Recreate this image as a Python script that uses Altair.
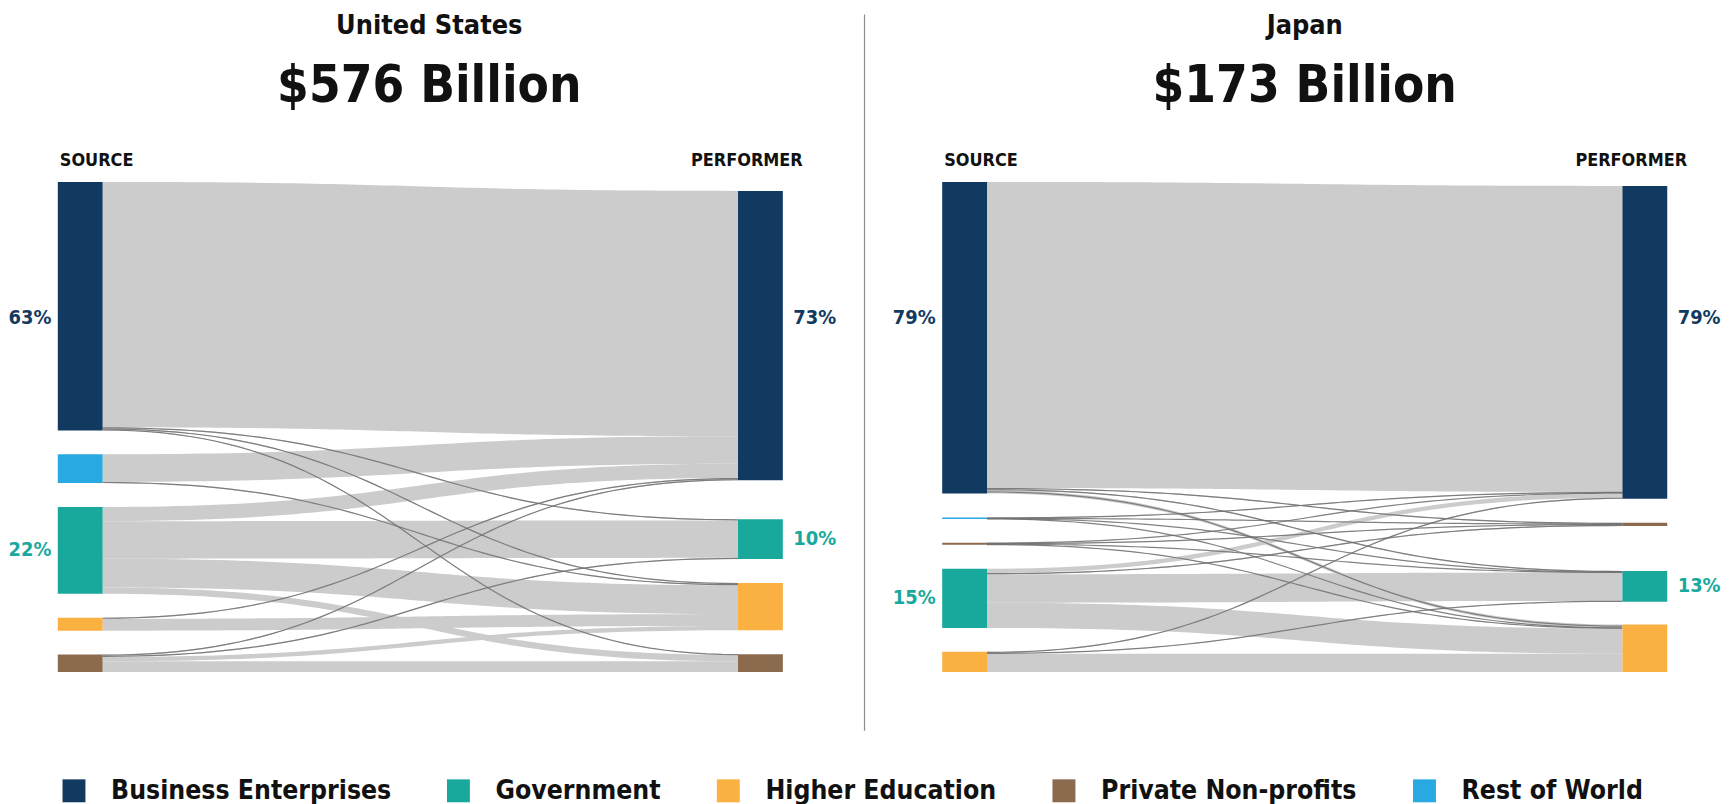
import altair as alt
import numpy as np
import pandas as pd

# ---------------- data ----------------
CATEGORIES = ["Business Enterprises", "Government", "Higher Education",
              "Private Non-profits", "Rest of World"]
CAT_COLORS = ["#123a61", "#19a99c", "#fbb042", "#8b6a4e", "#28a9e1"]
CODE = {"BE": "Business Enterprises", "GOV": "Government", "HE": "Higher Education",
        "PNP": "Private Non-profits", "ROW": "Rest of World"}

COUNTRIES = ["United States", "Japan"]
TOTALS = ["$576 Billion", "$173 Billion"]
HEADERS = ["SOURCE", "PERFORMER"]

# United States (shares of total R&D, %)
US_SOURCES = ["BE", "ROW", "GOV", "HE", "PNP"]
US_PERFORMERS = ["BE", "GOV", "HE", "PNP"]
US_FROM = ["BE", "BE", "BE", "BE", "ROW", "ROW", "GOV", "GOV", "GOV", "GOV",
           "HE", "HE", "PNP", "PNP", "PNP", "PNP"]
US_TO = ["BE", "GOV", "HE", "PNP", "BE", "HE", "BE", "GOV", "HE", "PNP",
         "BE", "HE", "BE", "GOV", "HE", "PNP"]
US_SHARE = [62.2, 0.3, 0.3, 0.2, 7.0, 0.3, 3.6, 9.5, 7.3, 1.6,
            0.3, 3.0, 0.3, 0.3, 1.1, 2.7]
US_SOURCE_LABELS = ["63%", "", "22%", "", ""]
US_PERFORMER_LABELS = ["73%", "10%", "", ""]

# Japan (shares of total R&D, %)
JP_SOURCES = ["BE", "ROW", "PNP", "GOV", "HE"]
JP_PERFORMERS = ["BE", "PNP", "GOV", "HE"]
JP_FROM = ["BE", "BE", "BE", "BE", "ROW", "ROW", "ROW", "ROW",
           "PNP", "PNP", "PNP", "PNP", "GOV", "GOV", "GOV", "GOV", "HE", "HE", "HE"]
JP_TO = ["BE", "PNP", "GOV", "HE", "BE", "PNP", "GOV", "HE",
         "BE", "PNP", "GOV", "HE", "BE", "PNP", "GOV", "HE", "BE", "GOV", "HE"]
JP_SHARE = [77.6, 0.3, 0.3, 0.8, 0.25, 0.05, 0.05, 0.05,
            0.1, 0.2, 0.05, 0.15, 1.1, 0.3, 7.2, 6.4, 0.3, 0.2, 4.6]
JP_SOURCE_LABELS = ["79%", "", "", "15%", ""]
JP_PERFORMER_LABELS = ["79%", "", "13%", ""]

# ---------------- layout (not data) ----------------
PLOT_W, PLOT_H = 728, 492
BAR_W = 45
K = 3.96          # px per percentage point
SRC_GAP = 24
PERF_LAYOUT = {"United States": (9, [39, 24, 24]), "Japan": (4, [24, 45, 23])}
TITLE_DX = {"United States": 9, "Japan": 0}
TOP_LABEL_Y = 137  # labels of the top (largest) nodes sit at a fixed height
THIN = 0.9        # flows below this share are drawn as lines
FONT = "Liberation Sans Narrow, DejaVu Sans Condensed, Roboto, sans-serif"


def build(country, sources, performers, f_from, f_to, f_val, src_labels, perf_labels):
    perf_top, perf_gaps = PERF_LAYOUT[country]
    sval = {s: sum(v for f, v in zip(f_from, f_val) if f == s) for s in sources}
    tval = {t: sum(v for g, v in zip(f_to, f_val) if g == t) for t in performers}
    spos, tpos = {}, {}
    y = 0.0
    for s in sources:
        spos[s] = (y, y + sval[s] * K)
        y += sval[s] * K + SRC_GAP
    y = float(perf_top)
    for j, t in enumerate(performers):
        tpos[t] = (y, y + tval[t] * K)
        y += tval[t] * K + (perf_gaps[j] if j < len(perf_gaps) else 0)
    srank = {s: i for i, s in enumerate(sources)}
    trank = {t: i for i, t in enumerate(performers)}
    n = len(f_val)
    out_off, in_off = [0.0] * n, [0.0] * n
    for s in sources:
        idx = sorted([i for i in range(n) if f_from[i] == s], key=lambda i: trank[f_to[i]])
        acc = 0.0
        for i in idx:
            out_off[i] = acc
            acc += f_val[i] * K
    for t in performers:
        idx = sorted([i for i in range(n) if f_to[i] == t], key=lambda i: srank[f_from[i]])
        acc = 0.0
        for i in idx:
            in_off[i] = acc
            acc += f_val[i] * K
    u = np.linspace(0, 1, 60)
    g = 1.5 * u * (1 - u) + u ** 3
    f = 3 * u ** 2 - 2 * u ** 3
    x0, x1 = BAR_W, PLOT_W - BAR_W
    rows = []
    for i in range(n):
        a = spos[f_from[i]][0] + out_off[i]
        b = tpos[f_to[i]][0] + in_off[i]
        th = f_val[i] * K
        top = a + (b - a) * f
        xs = x0 + (x1 - x0) * g
        for xx, tt in zip(xs, top):
            rows.append({"fid": i, "x": xx, "y0": tt, "y1": tt + th, "ym": tt + th / 2,
                         "thin": f_val[i] < THIN})
    flows = pd.DataFrame(rows)
    nodes = []
    for s in sources:
        nodes.append({"cat": CODE[s], "x0": 0, "x1": BAR_W, "y0": spos[s][0], "y1": spos[s][1]})
    for t in performers:
        nodes.append({"cat": CODE[t], "x0": PLOT_W - BAR_W, "x1": PLOT_W,
                      "y0": tpos[t][0], "y1": tpos[t][1]})
    nodes = pd.DataFrame(nodes)
    cmap = dict(zip(CATEGORIES, CAT_COLORS))

    def ly(pos, k):
        return TOP_LABEL_Y if k == 0 else (pos[0] + pos[1]) / 2

    left = pd.DataFrame([{"t": lab, "x": 0, "y": ly(spos[s], k), "col": cmap[CODE[s]]}
                         for k, (s, lab) in enumerate(zip(sources, src_labels)) if lab])
    right = pd.DataFrame([{"t": lab, "x": PLOT_W, "y": ly(tpos[t], k), "col": cmap[CODE[t]]}
                          for k, (t, lab) in enumerate(zip(performers, perf_labels)) if lab])
    return flows, nodes, left, right


def panel(i, spec):
    flows, nodes, left, right = build(COUNTRIES[i], *spec)
    xs = alt.Scale(domain=[0, PLOT_W], nice=False, zero=False)
    ys = alt.Scale(domain=[0, PLOT_H], nice=False, zero=False, reverse=True)

    def X(f):
        return alt.X(f, type="quantitative", scale=xs, axis=None)

    def Y(f):
        return alt.Y(f, type="quantitative", scale=ys, axis=None)

    areas = alt.Chart(flows[~flows.thin]).mark_area(color="#cccccc", orient="vertical").encode(
        x=X("x"), y=Y("y0"), y2="y1:Q", detail="fid:N")
    thin_area = alt.Chart(flows[flows.thin]).mark_area(color="#cccccc", orient="vertical").encode(
        x=X("x"), y=Y("y0"), y2="y1:Q", detail="fid:N")
    lines = alt.Chart(flows[flows.thin]).mark_line(color="#6f6f6f", strokeWidth=1.2, opacity=0.85).encode(
        x=X("x"), y=Y("ym"), detail="fid:N")
    rects = alt.Chart(nodes).mark_rect().encode(
        x=X("x0"), x2="x1:Q", y=Y("y0"), y2="y1:Q",
        color=alt.Color("cat:N", scale=alt.Scale(domain=CATEGORIES, range=CAT_COLORS),
                        legend=alt.Legend(title=None, orient="none", direction="horizontal",
                                          legendX=3, legendY=598, symbolType="square",
                                          symbolSize=530, symbolStrokeWidth=0, symbolOpacity=1,
                                          labelFontSize=26.5, labelFont=FONT, labelFontWeight="bold",
                                          labelColor="#111111", labelOffset=24, columnPadding=54,
                                          labelLimit=500)))
    ltxt = alt.Chart(left).mark_text(font=FONT, fontSize=20, fontWeight="bold", dx=-28,
                                     align="center", baseline="middle").encode(
        x=X("x"), y=Y("y"), text="t:N", color=alt.Color("col:N", scale=None))
    rtxt = alt.Chart(right).mark_text(font=FONT, fontSize=20, fontWeight="bold", dx=32,
                                      align="center", baseline="middle").encode(
        x=X("x"), y=Y("y"), text="t:N", color=alt.Color("col:N", scale=None))
    hdr = pd.DataFrame({"t": HEADERS, "x": [0, PLOT_W]})
    h_src = alt.Chart(hdr.iloc[[0]]).mark_text(font=FONT, fontSize=18, fontWeight="bold",
                                              align="left", baseline="alphabetic", dx=2,
                                              color="#111111").encode(
        x=X("x"), y=alt.value(-16), text="t:N")
    h_perf = alt.Chart(hdr.iloc[[1]]).mark_text(font=FONT, fontSize=18, fontWeight="bold",
                                               align="right", baseline="alphabetic", dx=20,
                                               color="#111111").encode(
        x=X("x"), y=alt.value(-16), text="t:N")
    ttl = pd.DataFrame({"t": [COUNTRIES[i]], "v": [TOTALS[i]]})
    tx = PLOT_W / 2 + TITLE_DX[COUNTRIES[i]]
    t1 = alt.Chart(ttl).mark_text(font=FONT, fontSize=27, fontWeight="bold", align="center",
                                  baseline="alphabetic", color="#111111").encode(
        x=alt.value(tx), y=alt.value(-149), text="t:N")
    t2 = alt.Chart(ttl).mark_text(font=FONT, fontSize=51, fontWeight="bold", align="center",
                                  baseline="alphabetic", color="#111111").encode(
        x=alt.value(tx), y=alt.value(-80), text="v:N")
    layers = [areas, thin_area, lines, rects, ltxt, rtxt, h_src, h_perf, t1, t2]
    if i == 1:
        div = alt.Chart(ttl).mark_rule(color="#8c8c8c", strokeWidth=1.2).encode(
            x=alt.value(-78), y=alt.value(-168), y2=alt.value(551))
        layers.append(div)
    return alt.layer(*layers).properties(width=PLOT_W, height=PLOT_H)


us = panel(0, (US_SOURCES, US_PERFORMERS, US_FROM, US_TO, US_SHARE,
               US_SOURCE_LABELS, US_PERFORMER_LABELS))
jp = panel(1, (JP_SOURCES, JP_PERFORMERS, JP_FROM, JP_TO, JP_SHARE,
               JP_SOURCE_LABELS, JP_PERFORMER_LABELS))

chart = alt.hconcat(us, jp, spacing=160, bounds="flush").resolve_scale(
    color="shared").properties(padding={"left": 0, "top": 2, "right": 5, "bottom": 0}
).configure_view(stroke=None)

chart.save("out.html", embed_options={"renderer": "svg", "actions": False})
